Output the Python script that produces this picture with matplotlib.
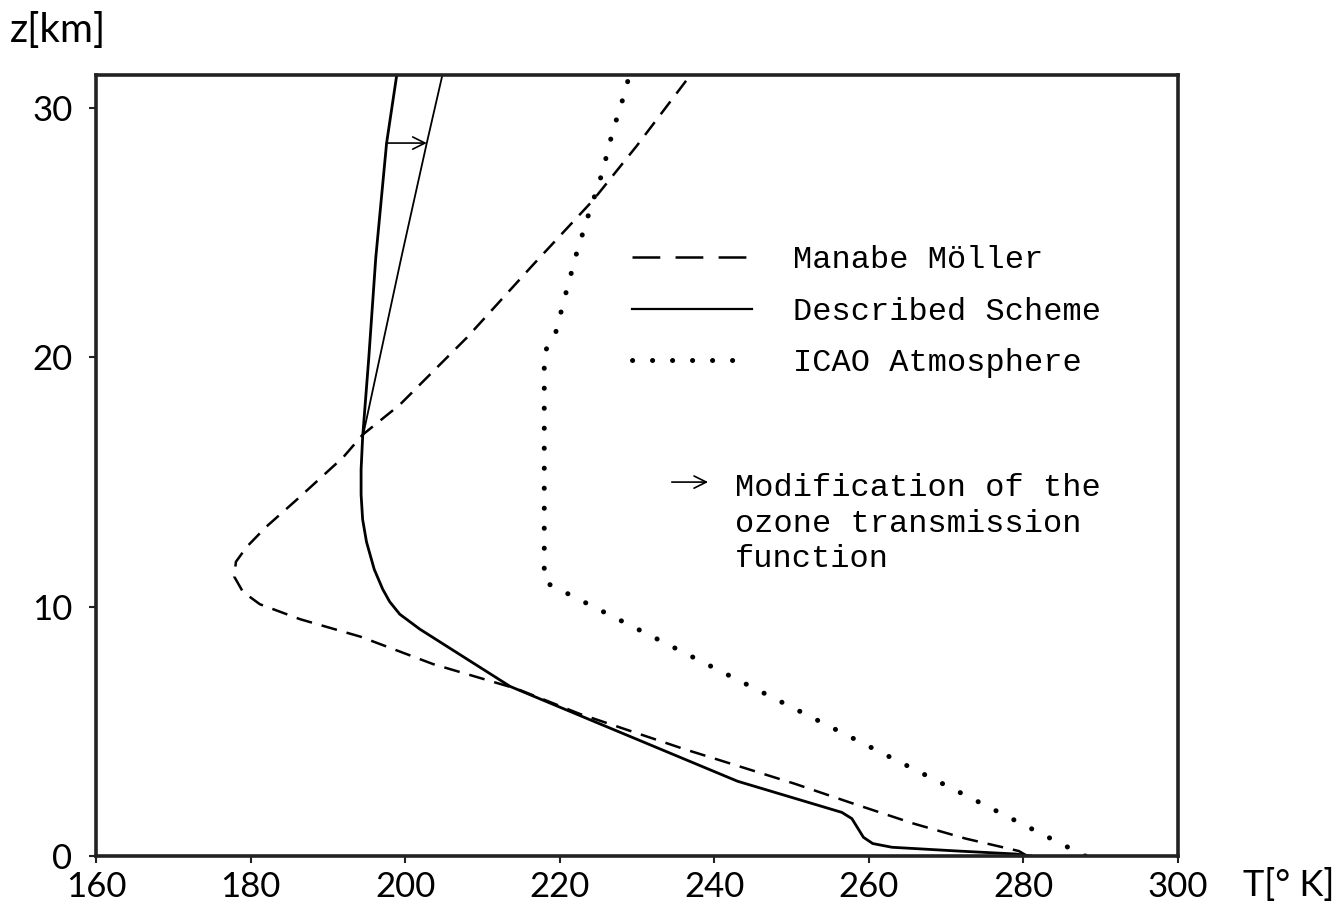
#!/usr/bin/env python3
import numpy as np
import matplotlib
matplotlib.use("Agg")
import matplotlib.pyplot as plt
from matplotlib.lines import Line2D

plt.rcParams["lines.scale_dashes"] = False

# temperature profiles (T in K, z in km)
manabe_T = [280.5, 279.4, 272.5, 265.8, 258.0, 250.4, 236.0, 222.6, 214.5, 203.6,
            194.2, 186.4, 181.2, 179.0, 177.9, 178.1, 179.5, 182.0, 186.0, 192.0,
            194.5, 199.3, 208.0, 216.5, 224.3, 230.0, 236.6, 237.0]
manabe_z = [0.0, 0.2, 0.7, 1.3, 2.1, 2.9, 4.3, 5.7, 6.7, 7.7,
            8.8, 9.5, 10.1, 10.6, 11.2, 11.8, 12.4, 13.2, 14.3, 16.0,
            16.9, 18.1, 20.8, 23.7, 26.3, 28.5, 31.2, 31.4]

scheme_T = [281.0, 279.0, 271.5, 263.0, 260.5, 259.3, 258.6, 257.8, 256.5, 243.0,
            225.2, 213.6, 208.0, 201.9, 199.3, 198.0, 197.1, 196.0, 195.0, 194.5,
            194.3, 194.3, 194.5, 195.3, 196.2, 197.6, 198.9]
scheme_z = [0.0, 0.08, 0.2, 0.35, 0.5, 0.75, 1.1, 1.5, 1.75, 3.0,
            5.3, 6.8, 7.9, 9.1, 9.7, 10.2, 10.7, 11.5, 12.6, 13.5,
            14.5, 15.5, 16.8, 20.0, 24.0, 28.6, 31.3]

modified_T = [194.5, 199.5, 202.8, 204.8]
modified_z = [16.8, 24.0, 28.6, 31.3]

icao_T = [288.0, 218.0, 218.0, 219.4, 220.9, 222.2, 223.7, 225.5, 226.8, 228.2, 229.0]
icao_z = [0.0, 11.0, 20.2, 20.9, 22.7, 24.2, 25.7, 27.4, 29.0, 30.4, 31.3]

x_ticks = [160, 180, 200, 220, 240, 260, 280, 300]
y_ticks = [0, 10, 20, 30]

legend_labels = ["Manabe Möller", "Described Scheme", "ICAO Atmosphere"]
note_text = "Modification of the\nozone transmission\nfunction"

W, H = 1338, 908
fig = plt.figure(figsize=(W / 100, H / 100), dpi=100)
ax = fig.add_axes([96 / W, 1 - 856 / H, (1178 - 96) / W, (856 - 75) / H])

tick_font = dict(family=["Lato", "DejaVu Sans"], weight="normal", size=25, color="black")
mono_font = dict(family=["Liberation Mono", "DejaVu Sans Mono"], size=23)

dash_style = dict(color="black", lw=1.8, ls=(0, (11.5, 7.2)))
dot_style = dict(color="black", lw=3.6, ls=(0, (0.1, 14.3)),
                 dash_capstyle="round")

ax.plot(manabe_T, manabe_z, **dash_style)
ax.plot(scheme_T, scheme_z, color="black", lw=2.0)
ax.plot(modified_T, modified_z, color="black", lw=1.3)
ax.plot(icao_T, icao_z, **dot_style)

# arrow showing the shift from the ozone modification
ax.annotate("", xy=(modified_T[2], modified_z[2]), xytext=(scheme_T[-2], scheme_z[-2]),
            arrowprops=dict(arrowstyle="->", lw=1.2, color="black",
                            shrinkA=0, shrinkB=0, mutation_scale=22))

ax.set_xlim(160, 300)
ax.set_ylim(0, 31.33)
ax.set_xticks(x_ticks)
ax.set_yticks(y_ticks)
ax.tick_params(direction="out", length=5, width=1.5, color="#222")
ax.tick_params(axis="x", pad=6)
ax.tick_params(axis="y", pad=12)
for lab in ax.get_xticklabels() + ax.get_yticklabels():
    lab.set_fontfamily(tick_font["family"])
    lab.set_fontweight(tick_font["weight"])
    lab.set_fontsize(tick_font["size"])
    lab.set_color(tick_font["color"])
for sp in ax.spines.values():
    sp.set_linewidth(2.6)
    sp.set_color("#222")

fig.text(10 / W, 1 - 30 / H, "z[km]", ha="left", va="center",
         family=tick_font["family"], size=29, color="black")
fig.text(1243 / W, 1 - 885 / H, "T[° K]", ha="left", va="center",
         family=tick_font["family"], size=26, color="black")

# legend (handles styled like the figure's key)
handles = [
    Line2D([], [], color="black", lw=1.8, ls=(0, (20, 11))),
    Line2D([], [], color="black", lw=1.6),
    Line2D([], [], **dot_style),
]
leg = ax.legend(handles, legend_labels, loc="upper left",
                bbox_to_anchor=(632 / W, 1 - 245 / H), bbox_transform=fig.transFigure,
                frameon=False, borderpad=0, borderaxespad=0,
                handlelength=3.75, handletextpad=1.28, labelspacing=0.68,
                prop=dict(family=mono_font["family"], size=mono_font["size"]))

# note with its arrow
ax.annotate("", xy=(239.2, 15.0), xytext=(234.5, 15.0),
            arrowprops=dict(arrowstyle="->", lw=1.2, color="black",
                            shrinkA=0, shrinkB=0, mutation_scale=22))
ax.text(242.7, 15.36, note_text, ha="left", va="top", linespacing=1.24,
        transform=ax.transData, **mono_font)

fig.savefig("out.png", dpi=100)
